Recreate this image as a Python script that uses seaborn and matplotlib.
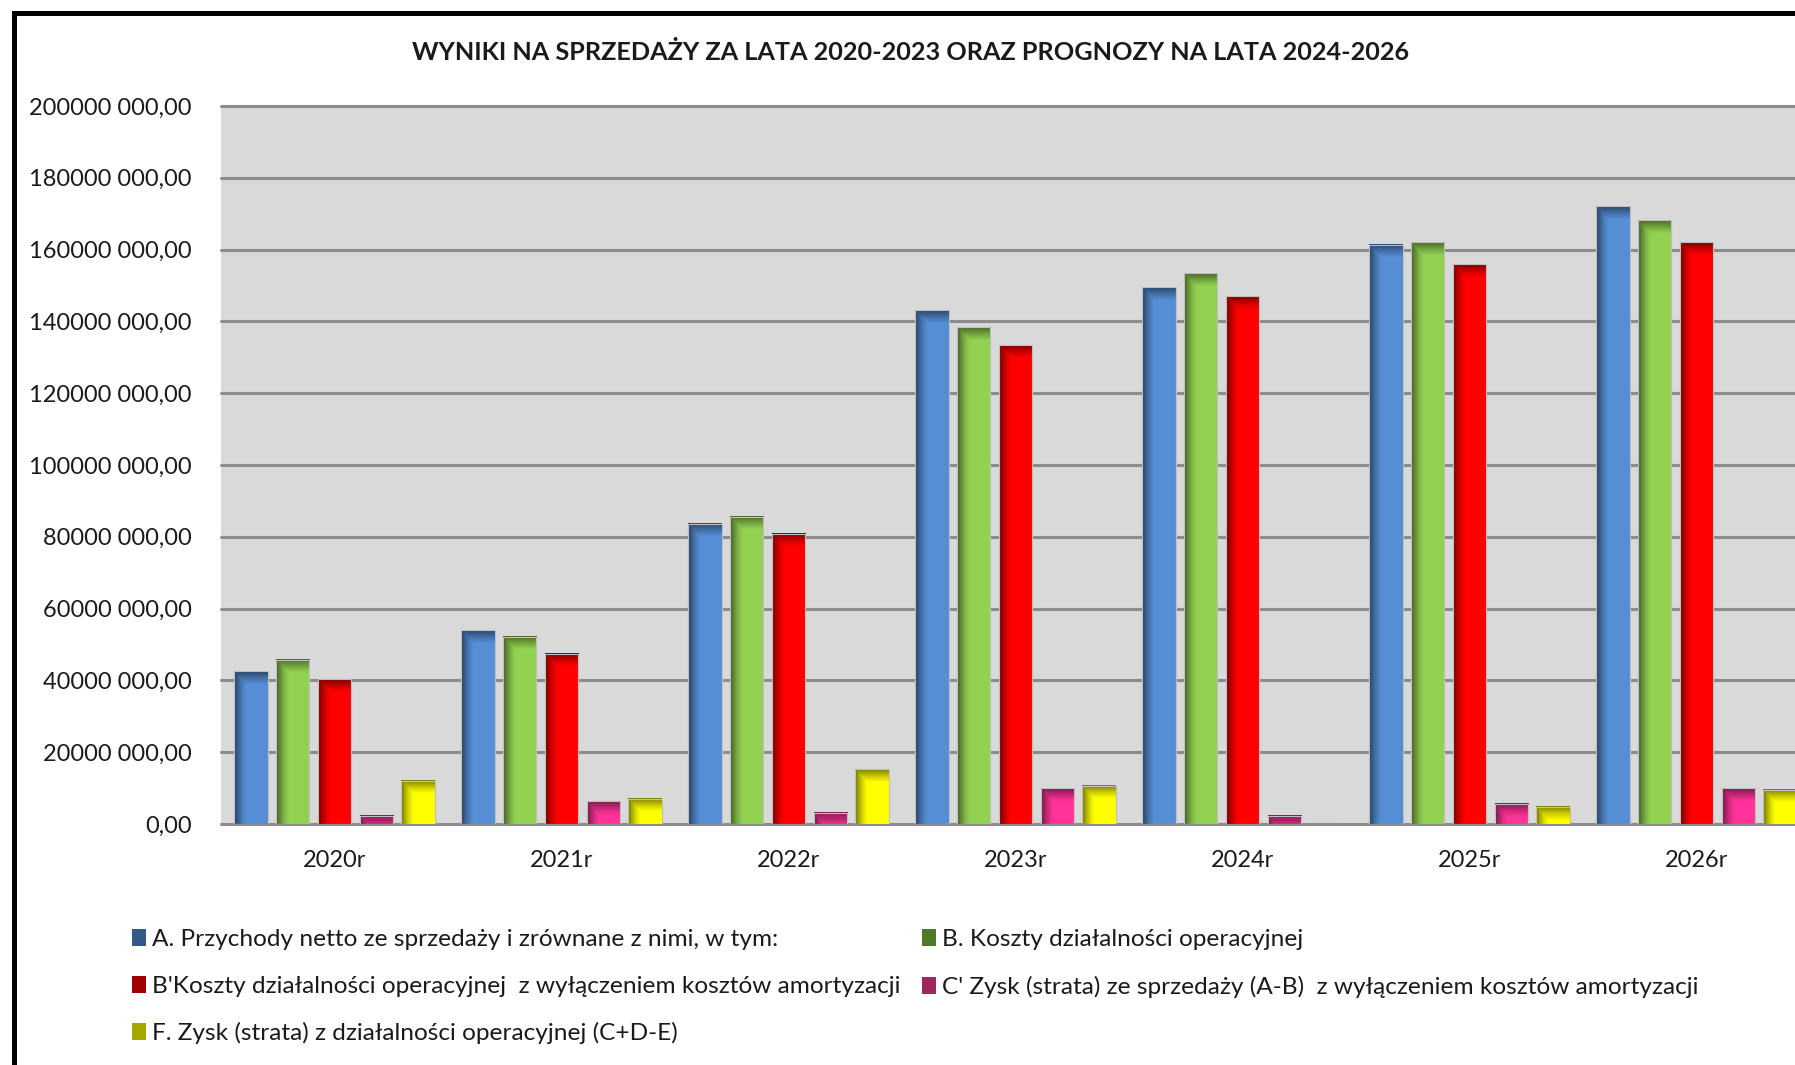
import numpy as np
import pandas as pd
import matplotlib
matplotlib.use('Agg')
import matplotlib.pyplot as plt
import matplotlib.colors as mcolors
from matplotlib.patches import Patch, Rectangle
import seaborn as sns

# --- Dane ---
lata = ['2020r', '2021r', '2022r', '2023r', '2024r', '2025r', '2026r']

serie = [
    'A. Przychody netto ze sprzedaży i zrównane z nimi, w tym:',
    'B. Koszty działalności operacyjnej',
    "B'Koszty działalności operacyjnej  z wyłączeniem kosztów amortyzacji",
    "C' Zysk (strata) ze sprzedaży (A-B)  z wyłączeniem kosztów amortyzacji",
    'F. Zysk (strata) z działalności operacyjnej (C+D-E)',
]

przychody = [42500000, 53900000, 83700000, 143100000, 149500000, 161300000, 172100000]
koszty = [45700000, 52100000, 85600000, 138400000, 153400000, 162100000, 168200000]
koszty_bez_amort = [40300000, 47400000, 80900000, 133400000, 147000000, 155900000, 162100000]
zysk_sprzedaz = [2300000, 6300000, 3200000, 9900000, 2300000, 5700000, 9900000]
zysk_operacyjny = [12000000, 7000000, 15300000, 10600000, 0, 4800000, 9500000]

y_ticks = [0, 20000000, 40000000, 60000000, 80000000, 100000000,
           120000000, 140000000, 160000000, 180000000, 200000000]
y_labels = ['0,00', '20000 000,00', '40000 000,00', '60000 000,00', '80000 000,00',
            '100000 000,00', '120000 000,00', '140000 000,00', '160000 000,00',
            '180000 000,00', '200000 000,00']

kolory = ['#558ED5', '#92D050', '#FF0000', '#FF3399', '#FFFF00']
kolory_legendy = ['#34588A', '#4F7A28', '#A00000', '#A0265F', '#A6A600']

tytul = 'WYNIKI NA SPRZEDAŻY ZA LATA 2020-2023 ORAZ PROGNOZY NA LATA 2024-2026'

# tabela w formacie dlugim dla seaborn
wartosci = [przychody, koszty, koszty_bez_amort, zysk_sprzedaz, zysk_operacyjny]
df = pd.DataFrame({
    'rok': lata * len(serie),
    'seria': [s for s in serie for _ in lata],
    'wartosc': [v for w in wartosci for v in w],
})

sns.set_style('white')
plt.rcParams['font.family'] = ['Lato', 'DejaVu Sans']

fig = plt.figure(figsize=(17.95, 10.65), dpi=100)
fig.patch.set_facecolor('white')
ax = fig.add_axes([221 / 1795, 1 - 824 / 1065, 1589 / 1795, 718 / 1065])
ax.set_facecolor('#D9D9D9')

sns.barplot(data=df, x='rok', y='wartosc', hue='seria', hue_order=serie,
            palette=kolory, saturation=1, width=0.92, gap=0.2, legend=False,
            edgecolor='#BFBFBF', linewidth=0.8, ax=ax)

ax.set_xlim(-0.5, 6.5)
ax.set_ylim(0, 200000000)

# linie siatki (rysowane recznie, zeby nie byly przyciete)
for t in y_ticks:
    ax.axhline(t, color='#8C8C8C', lw=2.2, zorder=0.5, clip_on=False)


# cieniowanie slupkow w stylu Excela
def cieniuj(ax, patch):
    x, y = patch.get_x(), patch.get_y()
    w, h = patch.get_width(), patch.get_height()
    if h <= 0:
        return
    base = np.array(mcolors.to_rgb(patch.get_facecolor()))
    u = np.linspace(0, 1, 80)
    lewy = np.clip(1 - u / 0.38, 0, 1) ** 1.4 * 0.55
    h_px = ax.transData.transform((0, h))[1] - ax.transData.transform((0, 0))[1]
    rows = max(int(h_px), 2)
    v = np.arange(rows)
    gorny = np.clip(1 - v / 13.0, 0, 1) ** 1.2 * 0.5
    ciemn = np.maximum(lewy[None, :], gorny[:, None])
    img = base[None, None, :] * (1 - ciemn[..., None])
    z = patch.get_zorder()
    ax.imshow(img, extent=(x, x + w, y, y + h), aspect='auto', origin='upper',
              zorder=z + 0.1, interpolation='nearest')
    patch.set_facecolor('none')
    patch.set_zorder(z + 0.2)


for p in list(ax.patches):
    cieniuj(ax, p)

ax.set_xlim(-0.5, 6.5)
ax.set_ylim(0, 200000000)

ax.set_yticks(y_ticks)
ax.set_yticklabels(y_labels)
ax.tick_params(axis='y', length=0, pad=21, labelsize=17, labelcolor='#1a1a1a')
ax.tick_params(axis='x', length=0, pad=19, labelsize=17, labelcolor='#1a1a1a')
ax.set_xlabel('')
ax.set_ylabel('')
for s in ax.spines.values():
    s.set_visible(False)

fig.text(0.507, 1 - 52 / 1065, tytul, ha='center', va='center',
         fontsize=18.2, fontweight='bold', color='#1a1a1a')

# legenda: 2 kolumny, kolejnosc wierszami
uchwyty = [Patch(facecolor=c, edgecolor='none') for c in kolory_legendy]
kolejnosc = [0, 2, 4, 1, 3]
fig.legend([uchwyty[i] for i in kolejnosc], [serie[i] for i in kolejnosc],
           loc='upper left', bbox_to_anchor=(132 / 1795, 1 - 929 / 1065),
           ncol=2, frameon=False, fontsize=17.6, handlelength=0.58, handleheight=0.7,
           handletextpad=0.25, labelspacing=1.04, columnspacing=0.85,
           borderpad=0, borderaxespad=0, labelcolor='#1a1a1a')

# ramka wykresu
fig.patches.append(Rectangle((13.5 / 1795, -0.2), 1.2, 1.2 - 12.5 / 1065,
                             transform=fig.transFigure, fill=False,
                             edgecolor='black', lw=3.6))

fig.savefig('out.png', dpi=100)
